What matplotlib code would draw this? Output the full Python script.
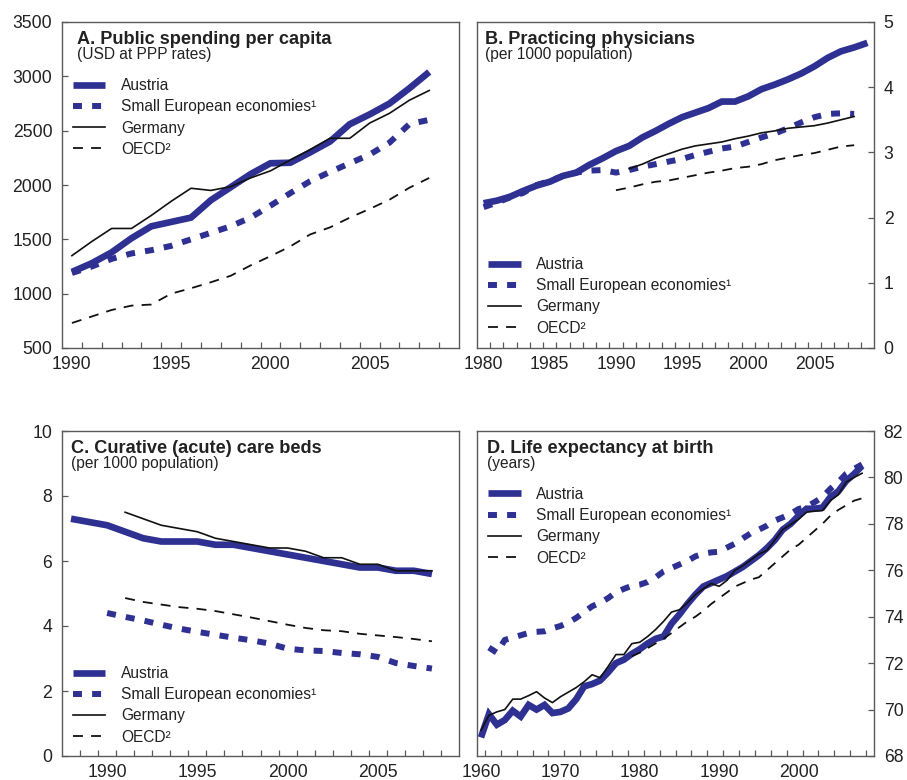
import matplotlib
matplotlib.use("Agg")
import matplotlib.pyplot as plt
import numpy as np

plt.rcParams['font.family'] = ['Liberation Sans', 'DejaVu Sans']

BLUE = '#2E3192'
SPINE = '#5a5a5a'
TXT = '#222222'

LABELS = ['Austria', 'Small European economies\u00b9', 'Germany', 'OECD\u00b2']

# A. public spending per capita, USD at PPP rates, 1990-2008
spend_years = list(range(1990, 2009))
spend_aut = [1200, 1280, 1380, 1510, 1620, 1660, 1700, 1860, 1980, 2100,
             2200, 2205, 2300, 2400, 2560, 2650, 2750, 2890, 3040]
spend_sme = [1190, 1250, 1320, 1370, 1400, 1440, 1500, 1560, 1620, 1700,
             1810, 1925, 2035, 2120, 2200, 2280, 2390, 2560, 2600]
spend_deu = [1350, 1480, 1600, 1600, 1720, 1850, 1970, 1950, 1985, 2065,
             2130, 2230, 2325, 2430, 2430, 2570, 2660, 2780, 2870]
spend_oecd = [730, 790, 850, 890, 900, 1000, 1050, 1105, 1165, 1260,
              1345, 1435, 1545, 1610, 1700, 1780, 1865, 1975, 2065]

# B. practicing physicians per 1000 population
phys_aut_years = list(range(1980, 2010))
phys_aut = [2.22, 2.26, 2.32, 2.41, 2.49, 2.55, 2.64, 2.69, 2.81, 2.91,
            3.02, 3.10, 3.23, 3.33, 3.44, 3.54, 3.61, 3.68, 3.78, 3.78,
            3.86, 3.97, 4.04, 4.12, 4.21, 4.32, 4.45, 4.55, 4.61, 4.68]
phys_sme_years = list(range(1980, 2009))
phys_sme = [2.16, 2.23, 2.31, 2.38, 2.50, 2.56, 2.64, 2.69, 2.72, 2.73,
            2.69, 2.73, 2.78, 2.82, 2.86, 2.90, 2.96, 3.01, 3.06, 3.09,
            3.16, 3.23, 3.29, 3.37, 3.46, 3.54, 3.59, 3.60, 3.59]
phys_deu_years = list(range(1991, 2009))
phys_deu = [2.75, 2.82, 2.91, 2.98, 3.05, 3.10, 3.13, 3.16, 3.21, 3.25,
            3.30, 3.33, 3.37, 3.39, 3.41, 3.45, 3.50, 3.55]
phys_oecd_years = list(range(1990, 2009))
phys_oecd = [2.42, 2.46, 2.51, 2.55, 2.57, 2.61, 2.65, 2.69, 2.72, 2.76,
             2.78, 2.82, 2.88, 2.92, 2.96, 2.99, 3.04, 3.09, 3.11]

# C. curative (acute) care beds per 1000 population
beds_aut_years = list(range(1988, 2009))
beds_aut = [7.3, 7.2, 7.1, 6.9, 6.7, 6.6, 6.6, 6.6, 6.5, 6.5, 6.4,
            6.3, 6.2, 6.1, 6.0, 5.9, 5.8, 5.8, 5.7, 5.7, 5.6]
beds_sme_years = list(range(1990, 2009))
beds_sme = [4.40, 4.28, 4.17, 4.04, 3.92, 3.82, 3.73, 3.64, 3.56, 3.46,
            3.30, 3.25, 3.23, 3.17, 3.13, 3.05, 2.86, 2.77, 2.69]
beds_deu_years = list(range(1991, 2009))
beds_deu = [7.5, 7.3, 7.1, 7.0, 6.9, 6.7, 6.6, 6.5, 6.4, 6.4,
            6.3, 6.1, 6.1, 5.9, 5.9, 5.7, 5.7, 5.7]
beds_oecd_years = list(range(1991, 2009))
beds_oecd = [4.86, 4.74, 4.66, 4.58, 4.53, 4.46, 4.36, 4.26, 4.15, 4.04,
             3.94, 3.87, 3.84, 3.76, 3.71, 3.66, 3.60, 3.53]

# D. life expectancy at birth, years
life_years = list(range(1960, 2009))
life_aut = [68.8, 69.8, 69.35, 69.55, 69.95, 69.7, 70.2, 70.0, 70.2, 69.85,
            69.9, 70.05, 70.45, 71.0, 71.1, 71.25, 71.6, 72.0, 72.15, 72.4,
            72.6, 72.85, 73.05, 73.15, 73.7, 74.1, 74.55, 74.95, 75.3, 75.45,
            75.6, 75.75, 75.95, 76.15, 76.4, 76.65, 76.95, 77.3, 77.75, 78.0,
            78.35, 78.65, 78.65, 78.7, 79.15, 79.4, 79.85, 80.15, 80.5]
life_deu = [69.1, 69.75, 69.9, 70.0, 70.45, 70.45, 70.6, 70.77, 70.5, 70.3,
            70.55, 70.75, 70.95, 71.2, 71.5, 71.37, 71.85, 72.37, 72.37, 72.84,
            72.9, 73.15, 73.45, 73.8, 74.2, 74.3, 74.6, 74.95, 75.2, 75.43,
            75.31, 75.57, 76.0, 76.2, 76.45, 76.7, 76.85, 77.3, 77.75, 77.97,
            78.2, 78.5, 78.55, 78.57, 79.0, 79.25, 79.8, 80.0, 80.18]
life_sme_years = list(range(1961, 2009))
life_sme = [72.67, 72.45, 73.0, 73.1, 73.2, 73.3, 73.35, 73.37, 73.5, 73.6,
            73.75, 73.95, 74.2, 74.45, 74.6, 74.8, 75.05, 75.2, 75.33, 75.38,
            75.5, 75.7, 75.95, 76.1, 76.25, 76.4, 76.6, 76.72, 76.77, 76.8,
            76.98, 77.15, 77.38, 77.6, 77.75, 77.92, 78.14, 78.28, 78.43, 78.64,
            78.74, 78.93, 79.15, 79.51, 79.8, 80.16, 80.37, 80.56]
life_oecd_years = list(range(1979, 2009))
life_oecd = [72.3, 72.45, 72.65, 72.85, 73.05, 73.3, 73.55, 73.8, 74.0, 74.25,
             74.55, 74.8, 75.05, 75.3, 75.45, 75.6, 75.7, 76.0, 76.3, 76.6,
             76.9, 77.1, 77.4, 77.7, 78.0, 78.35, 78.6, 78.8, 79.0, 79.1]


def draw_panel(ax, series, xlim, xticks, minor, ylim, yticks, right,
               title, subtitle, tx, leg_xy):
    (xa, ya), (xs, ys), (xd, yd), (xo, yo) = series
    ax.plot(xa, ya, color=BLUE, lw=4.8, solid_capstyle='butt',
            solid_joinstyle='miter', label=LABELS[0])
    ax.plot(xs, ys, color=BLUE, lw=4.3, linestyle=(0, (1.5, 1.7)),
            dash_capstyle='butt', label=LABELS[1])
    ax.plot(xd, yd, color='#111111', lw=1.2, label=LABELS[2])
    ax.plot(xo, yo, color='#111111', lw=1.3, linestyle=(0, (5.5, 4.5)),
            label=LABELS[3])

    ax.set_xlim(*xlim)
    ax.set_ylim(*ylim)
    ax.set_xticks(xticks)
    ax.set_xticks(minor, minor=True)
    ax.set_yticks(yticks)
    ax.tick_params(axis='x', which='major', length=0, pad=6,
                   labelsize=12.7, labelcolor=TXT)
    ax.tick_params(axis='x', which='minor', direction='in', length=4,
                   width=0.9, color=SPINE)
    if right:
        ax.yaxis.tick_right()
    ax.tick_params(axis='y', direction='in', length=4, width=0.9,
                   color=SPINE, pad=7, labelsize=12.7, labelcolor=TXT)
    for sp in ax.spines.values():
        sp.set_color(SPINE)
        sp.set_linewidth(1.0)

    ax.text(tx, 0.932, title, transform=ax.transAxes, fontsize=13.1,
            fontweight='bold', va='baseline', color=TXT)
    ax.text(tx, 0.887, subtitle, transform=ax.transAxes, fontsize=11.2,
            va='baseline', color=TXT)

    ax.legend(loc='upper left', bbox_to_anchor=leg_xy, frameon=False,
              fontsize=11.2, handlelength=2.1, handletextpad=1.0,
              labelspacing=0.4, borderpad=0, borderaxespad=0,
              labelcolor=TXT)


fig = plt.figure(figsize=(9.07, 7.8), dpi=100)
W, H = 907.0, 780.0


def box(l, t, r, b):
    return [l / W, 1 - b / H, (r - l) / W, (b - t) / H]


axA = fig.add_axes(box(62, 22, 459, 348))
axB = fig.add_axes(box(477, 22, 874, 348))
axC = fig.add_axes(box(62, 431, 459, 756))
axD = fig.add_axes(box(477, 431, 874, 756))

draw_panel(axA,
           [(spend_years, spend_aut), (spend_years, spend_sme),
            (spend_years, spend_deu), (spend_years, spend_oecd)],
           (1989.5, 2009.5), [1990, 1995, 2000, 2005],
           np.arange(1990.5, 2009, 1), (500, 3500), range(500, 3501, 500),
           False, 'A. Public spending per capita', '(USD at PPP rates)',
           0.038, (0.027, 0.828))

draw_panel(axB,
           [(phys_aut_years, phys_aut), (phys_sme_years, phys_sme),
            (phys_deu_years, phys_deu), (phys_oecd_years, phys_oecd)],
           (1979.5, 2009.5), [1980, 1985, 1990, 1995, 2000, 2005],
           np.arange(1980.5, 2009, 1), (0, 5), range(0, 6),
           True, 'B. Practicing physicians', '(per 1000 population)',
           0.02, (0.028, 0.279))

draw_panel(axC,
           [(beds_aut_years, beds_aut), (beds_sme_years, beds_sme),
            (beds_deu_years, beds_deu), (beds_oecd_years, beds_oecd)],
           (1987.5, 2009.5), [1990, 1995, 2000, 2005],
           np.arange(1988.5, 2009, 1), (0, 10), range(0, 11, 2),
           False, 'C. Curative (acute) care beds', '(per 1000 population)',
           0.023, (0.027, 0.277))

draw_panel(axD,
           [(life_years, life_aut), (life_sme_years, life_sme),
            (life_years, life_deu), (life_oecd_years, life_oecd)],
           (1959.5, 2009.5), [1960, 1970, 1980, 1990, 2000],
           np.arange(1960.5, 2009, 2), (68, 82), range(68, 83, 2),
           True, 'D. Life expectancy at birth', '(years)',
           0.024, (0.028, 0.828))

fig.savefig('out.png', dpi=100)
